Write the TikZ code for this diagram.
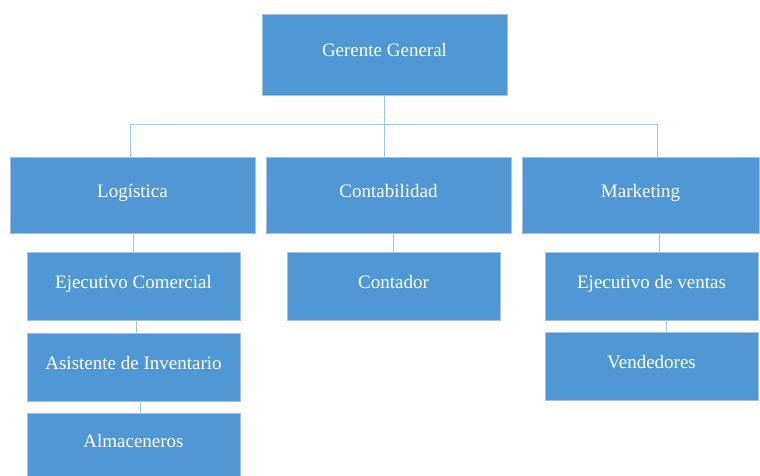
\documentclass[tikz,border=0pt]{standalone}
\usepackage{fontspec}
\setmainfont{Liberation Serif}
\usetikzlibrary{positioning}
\definecolor{boxblue}{RGB}{80,152,213}
\definecolor{boxedge}{RGB}{165,195,225}
\definecolor{linkblue}{RGB}{160,198,232}
\tikzset{orgbox/.style={draw=boxedge, line width=0.6pt, fill=boxblue, text=white, font=\fontsize{19}{22}\selectfont, inner sep=0pt, text height=0.7em, text depth=0.25em, minimum width=245pt, minimum height=76pt}}
\tikzset{subbox/.style={orgbox, minimum width=213pt, minimum height=68pt}}
\tikzset{link/.style={draw=linkblue, line width=1pt}}

\begin{document}
\begin{tikzpicture}[x=1pt,y=1pt]
	\useasboundingbox (0,0) rectangle (760,475);
	\node[orgbox, minimum height=81pt] (gg) at (384.5,420.5) {Gerente General};
	\node[orgbox] (log) at (132.5,280) {Logística};
	\node[orgbox] (con) at (388.5,280) {Contabilidad};
	\node[orgbox, minimum width=237pt] (mkt) at (640.5,280) {Marketing};
	%
	\node[subbox, below=19pt of log, xshift=1pt] (ec) {Ejecutivo Comercial};
	\node[subbox, below=12pt of ec] (ai) {Asistente de Inventario};
	\node[subbox, below=11pt of ai, minimum height=64pt] (alm) {Almaceneros};
	\node[subbox, below=19pt of con, xshift=5pt] (cont) {Contador};
	\node[subbox, below=19pt of mkt, xshift=11pt] (ev) {Ejecutivo de ventas};
	\node[subbox, below=11pt of ev] (ven) {Vendedores};
	%
	\coordinate (bus) at (0,351);
	\draw[link] (gg.south) -- (gg.south |- con.north);
	\draw[link] ([xshift=-2pt]log.north) -- ([xshift=-2pt]log.north |- bus) -| ([xshift=17pt]mkt.north);
	\draw[link] (ec.north |- log.south) -- (ec.north);
	\draw[link] ([xshift=3pt]ec.south) -- ([xshift=3pt]ai.north);
	\draw[link] ([xshift=7pt]ai.south) -- ([xshift=7pt]alm.north);
	\draw[link] (cont.north |- con.south) -- (cont.north);
	\draw[link] ([xshift=8pt]ev.north |- mkt.south) -- ([xshift=8pt]ev.north);
	\draw[link] ([xshift=15pt]ev.south) -- ([xshift=15pt]ven.north);
\end{tikzpicture}
\end{document}
